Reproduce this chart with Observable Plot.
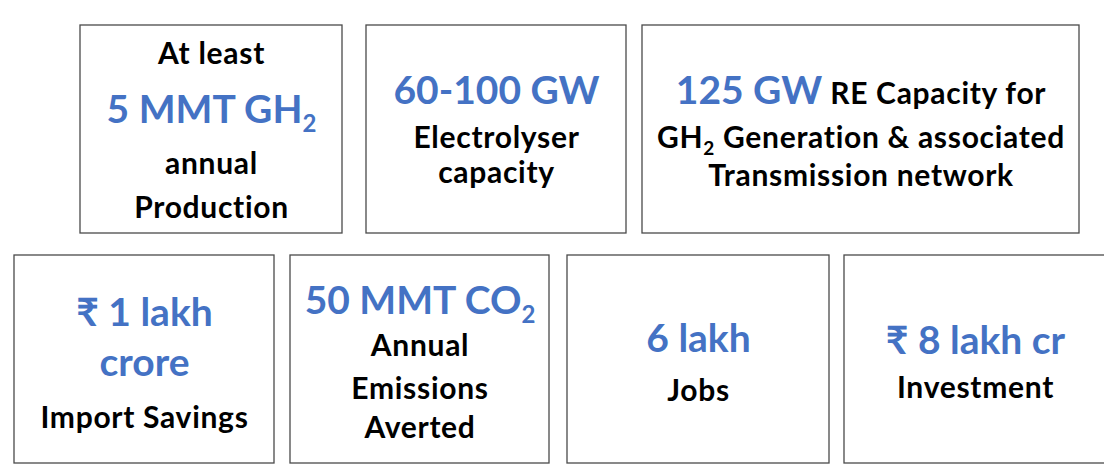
<!DOCTYPE html>
<html>
<head>
<meta charset="utf-8">
<script src="https://cdn.jsdelivr.net/npm/d3@7"></script>
<script src="https://cdn.jsdelivr.net/npm/@observablehq/plot@0.6"></script>
<style>
  html, body { margin: 0; padding: 0; background: #fff; }
  #chart svg { display: block; }
</style>
</head>
<body>
<div id="chart"></div>
<script>
// ---- data ----
const prefixes = ["At least", "", "", "", "", "", ""];
const figures = ["5 MMT GH₂", "60-100 GW", "125 GW", "₹ 1 lakh\ncrore", "50 MMT CO₂", "6 lakh", "₹ 8 lakh cr"];
const descriptions = [
  "annual\nProduction",
  "Electrolyser\ncapacity",
  "RE Capacity for\nGH₂ Generation & associated\nTransmission network",
  "Import Savings",
  "Annual\nEmissions\nAverted",
  "Jobs",
  "Investment"
];

// ---- layout (geometry kept apart from the data) ----
const W = 1104, H = 469;
const layout = [
  {x1: 80,  x2: 342,  y1: 25,  y2: 233, baselines: [63, 122, 173, 217]},
  {x1: 366, x2: 626,  y1: 25,  y2: 233, baselines: [103, 147, 182]},
  {x1: 642, x2: 1079, y1: 25,  y2: 233, baselines: [103, 147, 185], inline: true},
  {x1: 14,  x2: 274,  y1: 255, y2: 463, baselines: [325, 375, 427]},
  {x1: 290, x2: 549,  y1: 255, y2: 463, baselines: [313, 355, 398, 437]},
  {x1: 567, x2: 829,  y1: 255, y2: 463, baselines: [351, 400]},
  {x1: 844, x2: 1106, y1: 255, y2: 463, baselines: [353, 397]}
];
const BLUE = "#4472C4";
const FIG_SIZE = 39, LAB_SIZE = 30;
const FONT = "Lato, 'Open Sans', 'DejaVu Sans', sans-serif";

const cards = figures.map((f, i) => ({i, prefix: prefixes[i], figure: f, description: descriptions[i], ...layout[i]}));

// build text lines
const figLines = [], labLines = [];
for (const c of cards) {
  const cx = (c.x1 + Math.min(c.x2, W + 2)) / 2;
  let k = 0;
  if (c.prefix) labLines.push({x: cx, y: c.baselines[k++], text: c.prefix});
  const descs = c.description.split("\n");
  if (c.inline) {
    labLines.push({x: cx, y: c.baselines[k++], text: c.figure + " " + descs.shift(), mixed: c.figure});
  } else {
    for (const f of c.figure.split("\n")) figLines.push({x: cx, y: c.baselines[k++], text: f});
  }
  for (const d of descs) labLines.push({x: cx, y: c.baselines[k++], text: d});
}

const svg = Plot.plot({
  width: W, height: H,
  margin: 0,
  x: {domain: [0, W], range: [0, W], axis: null},
  y: {domain: [0, H], range: [0, H], axis: null},
  style: {fontFamily: FONT, background: "#fff"},
  marks: [
    Plot.rect(cards, {x1: "x1", x2: "x2", y1: "y1", y2: "y2", fill: "#fff", stroke: "#4a4a4a", strokeWidth: 1.3}),
    Plot.text(figLines, {x: "x", y: "y", text: "text", fill: BLUE, fontSize: FIG_SIZE, fontWeight: 700, lineAnchor: "bottom", textAnchor: "middle", fontFamily: FONT}),
    Plot.text(labLines, {x: "x", y: "y", text: "text", fill: "#000", fontSize: LAB_SIZE, fontWeight: 700, lineAnchor: "bottom", textAnchor: "middle", fontFamily: FONT})
  ]
});

// post-process: subscripts, mixed styling, label tracking
const NS = "http://www.w3.org/2000/svg";
const textGroups = svg.querySelectorAll('g[aria-label="text"]');
if (textGroups[1]) textGroups[1].style.letterSpacing = "0.7px";
function addRuns(el, str, size) {
  const parts = str.split("₂");
  const shift = 0.24 * size;
  parts.forEach((p, j) => {
    if (p) { const t = document.createElementNS(NS, "tspan"); t.textContent = p; if (j > 0) t.setAttribute("dy", -shift); el.appendChild(t); }
    if (j < parts.length - 1) {
      const s = document.createElementNS(NS, "tspan");
      s.textContent = "2";
      s.setAttribute("font-size", Math.round(size * 0.62));
      s.setAttribute("dy", shift);
      el.appendChild(s);
    }
  });
}
svg.querySelectorAll("text").forEach(el => {
  const s = el.textContent;
  const line = labLines.find(l => l.mixed && l.text === s);
  if (line) {
    el.textContent = "";
    const t = document.createElementNS(NS, "tspan");
    t.textContent = line.mixed;
    t.setAttribute("fill", BLUE);
    t.setAttribute("font-size", FIG_SIZE);
    t.style.letterSpacing = "0px";
    el.appendChild(t);
    const r = document.createElementNS(NS, "tspan");
    r.textContent = s.slice(line.mixed.length);
    el.appendChild(r);
  } else if (s.includes("₂")) {
    const size = parseFloat(el.getAttribute("font-size") || el.parentNode.getAttribute("font-size")) || LAB_SIZE;
    el.textContent = "";
    addRuns(el, s, size);
  }
});
document.getElementById("chart").appendChild(svg);
</script>
</body>
</html>
